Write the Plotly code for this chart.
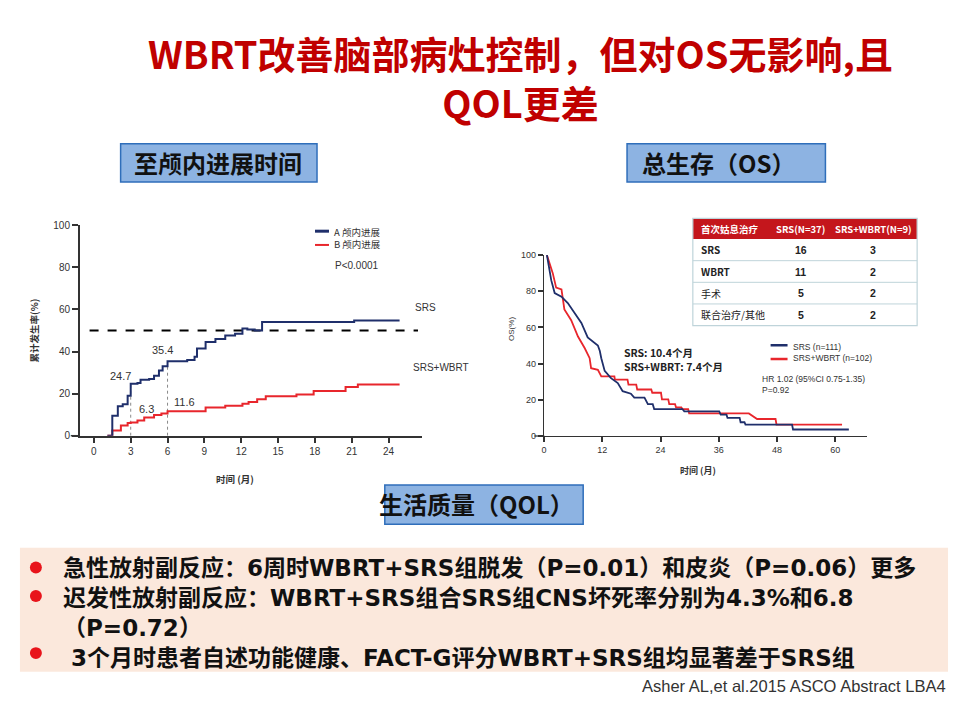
import plotly.graph_objects as go

W, H = 960, 720
def X(px): return px / W
def Y(py): return 1 - py / H

CJK = "Noto Sans CJK SC"
LAT = "Liberation Sans"
NAVY = "#1f2f6b"
RED = "#e8262c"

# ---------------- Left chart: cumulative intracranial progression ----------------
left_months = [0, 3, 6, 9, 12, 15, 18, 21, 24]
left_pct_ticks = [0, 20, 40, 60, 80, 100]

srs_prog_x = [1.1, 1.5, 1.95, 2.35, 2.75, 3.0, 3.55, 3.8, 4.5, 4.9, 5.3, 5.6, 6.0, 7.6, 8.2, 8.4,
              9.1, 9.9, 10.7, 11.5, 12.1, 12.5, 13.1, 13.7, 21.2, 24.9]
srs_prog_y = [0, 9.5, 14, 15, 19, 24.7, 25, 26.6, 27, 28.5, 31, 33, 35.4, 36, 37.5, 41.5,
              44.5, 46, 47.6, 48.5, 51, 50.5, 50, 54, 54.7, 54.7]

wbrt_prog_x = [1.1, 1.5, 2.2, 2.75, 3.0, 3.55, 4.1, 4.9, 5.5, 6.0, 9.1, 10.7, 12.1, 12.6, 13.3,
               14.0, 16.5, 17.9, 20.5, 21.5, 24.9]
wbrt_prog_y = [0, 2.5, 4.8, 6, 6.3, 7.2, 8.7, 9.8, 10.5, 11.6, 13.4, 14.2, 15.2, 16, 17.3,
               18.8, 19.6, 21.2, 23.2, 24.3, 24.3]

median_x = [-0.35, 26.4]
median_y = [50, 50]
marker_months = [3, 6]
marker_srs = [24.7, 35.4]
marker_wbrt = [6.3, 11.6]

# ---------------- Right chart: overall survival ----------------
os_months = [0, 12, 24, 36, 48, 60]
os_ticks = [0, 20, 40, 60, 80, 100]

os_srs_x = [0.6, 1.5, 2.2, 3.6, 4.9, 6.3, 7.7, 9.0, 10.1, 11.1, 11.5, 11.8, 12.5, 13.8, 15.2, 16.2,
            17.9, 18.6, 20.7, 21.4, 22.4, 22.7, 28.5, 28.9, 36.1, 36.4, 37.6, 37.8, 40.3, 40.5,
            41.3, 41.5, 51.1, 51.3, 62.8]
os_srs_y = [100, 86, 79, 77, 73.5, 68, 62.5, 54.5, 52, 50, 47, 43, 36, 32, 29.3, 24.8,
            23.4, 21.2, 21.2, 17.6, 17.6, 14.9, 14.9, 13.6, 13.6, 11.8, 11.8, 10, 10, 7.6,
            7.6, 6.3, 6.3, 3.6, 3.6]

os_wbrt_x = [0.6, 1.8, 2.5, 3.6, 4.2, 5.6, 7.0, 8.4, 9.4, 9.7, 11.1, 11.8, 14.5, 14.6, 17.2, 17.4,
             19.0, 19.2, 22.1, 22.3, 24.1, 24.3, 25.6, 25.8, 27.0, 27.2, 28.3, 28.5, 29.7, 29.9,
             42.2, 43.9, 47.7, 47.9, 61.4]
os_wbrt_y = [100, 90, 82, 81, 70, 64, 55, 48.5, 43, 37.5, 36.6, 33, 33, 31.2, 31.2, 28.4,
             28.4, 25.7, 25.7, 23.9, 23.9, 20.3, 20.3, 17.6, 17.6, 15.8, 15.8, 14.9, 14.9, 12.5,
             12.5, 9.4, 9.4, 6.3, 6.3]

table_header = ["首次姑息治疗", "SRS(N=37)", "SRS+WBRT(N=9)"]
table_rows = ["SRS", "WBRT", "手术", "联合治疗/其他"]
table_srs = [16, 11, 5, 5]
table_combo = [3, 2, 2, 2]

title_lines = ["WBRT改善脑部病灶控制，但对OS无影响,且", "QOL更差"]
bullet_lines = ["急性放射副反应：6周时WBRT+SRS组脱发（P=0.01）和皮炎（P=0.06）更多",
                "迟发性放射副反应：WBRT+SRS组合SRS组CNS坏死率分别为4.3%和6.8",
                "（P=0.72）",
                "\u00a03个月时患者自述功能健康、FACT-G评分WBRT+SRS组均显著差于SRS组"]
bullet_marks = [True, True, False, True]

fig = go.Figure()

# left traces
fig.add_trace(go.Scatter(x=median_x, y=median_y, mode="lines",
                         line=dict(color="black", width=2, dash="dash"), xaxis="x", yaxis="y"))
for m, v in zip(marker_months, marker_srs):
    fig.add_trace(go.Scatter(x=[m, m], y=[0, v], mode="lines",
                             line=dict(color="#8a8a8a", width=1, dash="dot"), xaxis="x", yaxis="y"))
fig.add_trace(go.Scatter(x=wbrt_prog_x, y=wbrt_prog_y, mode="lines", line_shape="hv",
                         line=dict(color=RED, width=2), xaxis="x", yaxis="y"))
fig.add_trace(go.Scatter(x=srs_prog_x, y=srs_prog_y, mode="lines", line_shape="hv",
                         line=dict(color=NAVY, width=2), xaxis="x", yaxis="y"))

# right traces
fig.add_trace(go.Scatter(x=os_wbrt_x, y=os_wbrt_y, mode="lines",
                         line=dict(color=RED, width=1.8), xaxis="x2", yaxis="y2"))
fig.add_trace(go.Scatter(x=os_srs_x, y=os_srs_y, mode="lines",
                         line=dict(color=NAVY, width=1.8), xaxis="x2", yaxis="y2"))

axis_common = dict(showline=True, linecolor="#333", linewidth=1.5, ticks="outside",
                   ticklen=6, tickwidth=1.5, tickcolor="#333", showgrid=False, zeroline=False,
                   tickfont=dict(family=LAT, size=10, color="#333"))
fig.update_layout(
    width=W, height=H, autosize=False,
    margin=dict(l=0, r=0, t=0, b=0),
    paper_bgcolor="white", plot_bgcolor="rgba(0,0,0,0)",
    showlegend=False,
    xaxis=dict(domain=[X(77), X(420)], range=[-1.15, 26.7], tickvals=left_months,
               anchor="y", **axis_common),
    yaxis=dict(domain=[Y(437), Y(223)], range=[0, 100], tickvals=left_pct_ticks,
               anchor="x", **axis_common),
    xaxis2=dict(domain=[X(542.7), X(867)], range=[0, 66.6], tickvals=os_months,
                anchor="y2", **{**axis_common, "linewidth": 1.3, "ticklen": 5,
                                "tickfont": dict(family=LAT, size=9, color="#333")}),
    yaxis2=dict(domain=[Y(437.3), Y(253.3)], range=[0, 100], tickvals=os_ticks,
                anchor="x2", **{**axis_common, "linewidth": 1.3, "ticklen": 5,
                                "tickfont": dict(family=LAT, size=9, color="#333")}),
)

shapes = []
annots = []

def rect(x0, y0, x1, y1, fill, line, lw=1.5, layer="below"):
    shapes.append(dict(type="rect", xref="paper", yref="paper", x0=X(x0), x1=X(x1),
                       y0=Y(y1), y1=Y(y0), fillcolor=fill, line=dict(color=line, width=lw),
                       layer=layer))

def hline(x0, x1, y, color, w, layer="above"):
    shapes.append(dict(type="line", xref="paper", yref="paper", x0=X(x0), x1=X(x1),
                       y0=Y(y), y1=Y(y), line=dict(color=color, width=w), layer=layer))

def text(px, py, s, size, color="#222", family=CJK, xanchor="center", yanchor="middle",
         textangle=0, align="left"):
    annots.append(dict(x=X(px), y=Y(py), xref="paper", yref="paper", text=s, showarrow=False,
                       xanchor=xanchor, yanchor=yanchor, textangle=textangle, align=align,
                       font=dict(family=family, size=size, color=color)))

# title (one block, two lines)
text(519, 72, "<br>".join(f"<b>{t}</b>" for t in title_lines), 38, "#c00000", align="center")

# section boxes
rect(118, 140, 315, 179, "#8db3e2", "#2f6eba")
text(216, 159, "<b>至颅内进展时间</b>", 24, "#111")
rect(626, 140, 825, 179, "#8db3e2", "#2f6eba")
text(718, 159, "<b>总生存（OS）</b>", 24, "#111")
rect(383, 487, 582, 527, "#8db3e2", "#2f6eba")
text(475, 506, "<b>生活质量（QOL）</b>", 24, "#111")

# bottom text box
rect(17, 551, 948, 677, "#fbe8dc", "#fbe8dc", 0)
line_y = [571, 600, 629, 658]
text(58, 617, "<br>".join(f"<b>{s}</b>" for s in bullet_lines), 23, "#111",
     family="DejaVu Sans, " + CJK, xanchor="left", align="left")
for ly, has_dot in zip(line_y, bullet_marks):
    if has_dot:
        shapes.append(dict(type="circle", xref="paper", yref="paper", x0=X(27), x1=X(39),
                           y0=Y(ly + 6), y1=Y(ly - 6), fillcolor="#e8141b", line=dict(width=0)))
text(948, 692, "Asher AL,et al.2015 ASCO Abstract LBA4", 16.5, "#333",
     family=LAT, xanchor="right")

# left chart decorations
hline(68, 77, 437, "#333", 1.5)
text(233, 481, "<b>时间 (月)</b>", 9.5, "#333")
text(32, 330, "<b>累计发生率(%)</b>", 9.5, "#333", textangle=-90)
hline(313, 327, 229, NAVY, 3)
hline(313, 327, 243, RED, 2)
text(330, 236, "A 颅内进展<br>B 颅内进展", 9.5, "#333", xanchor="left")
text(355, 264, "P<0.0001", 10, "#333", family=LAT)
text(411, 307, "SRS", 10, "#333", family=LAT, xanchor="left")
text(409, 368, "SRS+WBRT", 10, "#333", family=LAT, xanchor="left")
for xm, yv, dx, dy in [(marker_months[0], marker_srs[0], -0.8, 3.5),
                       (marker_months[1], marker_srs[1], -0.4, 5.5),
                       (marker_months[0], marker_wbrt[0], 1.25, 6.5),
                       (marker_months[1], marker_wbrt[1], 1.4, 4.5)]:
    annots.append(dict(x=xm + dx, y=yv + dy, xref="x", yref="y", text=f"{yv}", showarrow=False,
                       font=dict(family=LAT, size=11, color="#333")))

# right chart decorations
hline(533, 543, 437.3, "#333", 1.3)
text(510, 328, "OS(%)", 8, "#333", family=LAT, textangle=-90)
text(697, 472, "<b>时间 (月)</b>", 9, "#333")
text(621, 359, "<b>SRS: 10.4个月</b><br><b>SRS+WBRT: 7.4个月</b>", 10.5, "#222", xanchor="left")
hline(770, 787, 345, NAVY, 2.5)
hline(770, 787, 359, RED, 2.5)
text(790, 352, "SRS (n=111)<br>SRS+WBRT (n=102)", 8.5, "#333", family=LAT, xanchor="left")
text(759, 385, "HR 1.02 (95%CI 0.75-1.35)<br>P=0.92", 8.5, "#333", family=LAT, xanchor="left")

# table built from arrays
T_X0, T_X1, T_Y0, HDR_H, ROW_H = 692, 917, 216, 21, 22
col_pos = [(698, "left"), (800, "center"), (873, "center")]
rect(T_X0, T_Y0, T_X1, T_Y0 + HDR_H, "#c4161c", "#c4161c", 0, layer="above")
for (cx, anc), h in zip(col_pos, table_header):
    text(cx, T_Y0 + HDR_H / 2, f"<b>{h}</b>", 9.5, "white", xanchor=anc)
for i, (name, a, b) in enumerate(zip(table_rows, table_srs, table_combo)):
    cy = T_Y0 + HDR_H + ROW_H * i + ROW_H / 2
    label = f"<b>{name}</b>" if name in ("SRS", "WBRT") else name
    text(col_pos[0][0], cy, label, 10, "#222", xanchor="left")
    text(col_pos[1][0], cy, f"<b>{a}</b>", 10.5, "#222", family=LAT)
    text(col_pos[2][0], cy, f"<b>{b}</b>", 10.5, "#222", family=LAT)
    if i > 0:
        hline(T_X0, T_X1, T_Y0 + HDR_H + ROW_H * i, "#bfd4da", 1)
shapes.append(dict(type="rect", xref="paper", yref="paper", x0=X(T_X0), x1=X(T_X1),
                   y0=Y(T_Y0 + HDR_H + ROW_H * len(table_rows)), y1=Y(T_Y0),
                   line=dict(color="#bfd4da", width=1.2), layer="above"))

fig.update_layout(shapes=shapes, annotations=annots)
fig.write_html("out.html", config={"displayModeBar": False},
               post_script="document.body.style.margin='0px';")
